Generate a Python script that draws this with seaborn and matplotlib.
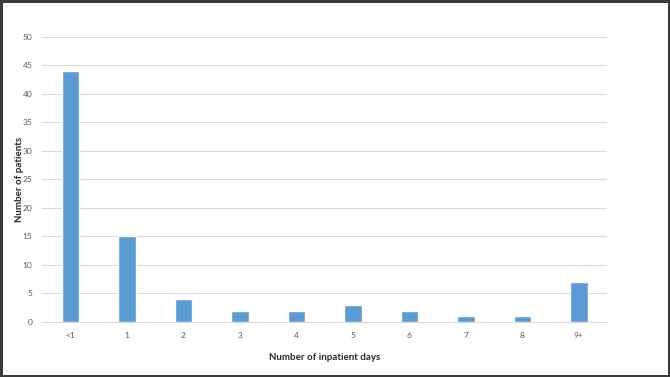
import pandas as pd
import matplotlib.pyplot as plt
import seaborn as sns

# Inpatient days distribution
days = ['<1', '1', '2', '3', '4', '5', '6', '7', '8', '9+']
patients = [44, 15, 4, 2, 2, 3, 2, 1, 1, 7]

df = pd.DataFrame({'days': days, 'patients': patients})

sns.set_style('white')
plt.rcParams['font.family'] = ['Lato', 'DejaVu Sans']

fig = plt.figure(figsize=(6.7, 3.77), dpi=100, edgecolor='#3a3a3a', linewidth=2.5)
ax = fig.add_axes([0.063, 0.146, 0.843, 0.756])

sns.barplot(data=df, x='days', y='patients', color='#5B9BD5', width=0.31,
            saturation=1, ax=ax, zorder=3)

ax.set_ylim(0, 50)
ax.set_yticks(range(0, 51, 5))
ax.set_xlim(-0.5, 9.5)
ax.yaxis.grid(True, color='#D9D9D9', linewidth=0.8, zorder=0)
ax.set_axisbelow(True)
for s in ['top', 'right', 'left']:
    ax.spines[s].set_visible(False)
ax.spines['bottom'].set_color('#D9D9D9')
ax.tick_params(axis='both', length=0, labelsize=6, colors='#595959', pad=7)

ax.set_xlabel('Number of inpatient days', fontsize=7, fontweight='bold')
ax.set_ylabel('Number of patients', fontsize=7, fontweight='bold')
ax.xaxis.set_label_coords(0.5, -0.11)
ax.yaxis.set_label_coords(-0.032, 0.5)

fig.savefig('out.png', dpi=100, edgecolor=fig.get_edgecolor())
